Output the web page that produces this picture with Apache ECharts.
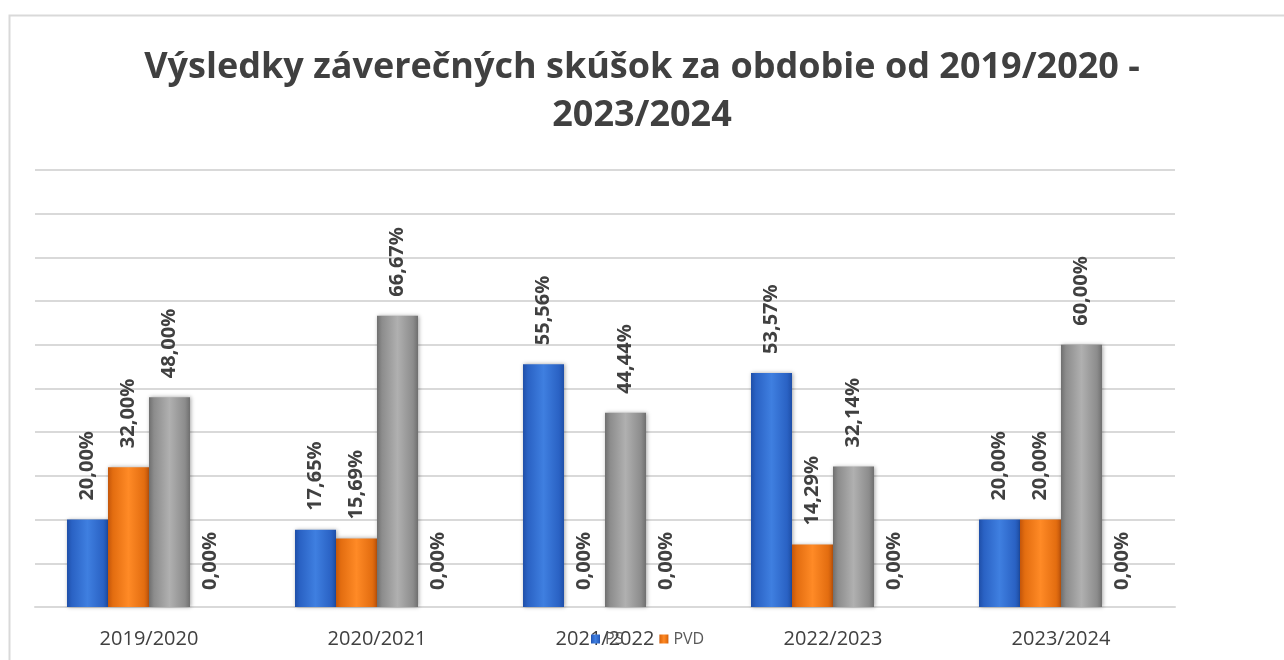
<!DOCTYPE html>
<html><head><meta charset="utf-8">
<script src="https://cdn.jsdelivr.net/npm/echarts@6/dist/echarts.min.js"></script>
<style>html,body{margin:0;padding:0;background:#fff}#c{width:1284px;height:660px}</style>
</head><body><div id="c"></div>
<script>
const titleText = 'Výsledky záverečných skúšok za obdobie od 2019/2020 -\n2023/2024';
const categories = ['2019/2020', '2020/2021', '2021/2022', '2022/2023', '2023/2024'];
const seriesNames = ['PS', 'PVD', 'P', 'N'];
const valuesPS  = [20.00, 17.65, 55.56, 53.57, 20.00];
const valuesPVD = [32.00, 15.69, 0.00, 14.29, 20.00];
const valuesP   = [48.00, 66.67, 44.44, 32.14, 60.00];
const valuesN   = [0.00, 0.00, 0.00, 0.00, 0.00];
const legendShown = ['PS', 'PVD'];

const allValues = [valuesPS, valuesPVD, valuesP, valuesN];
const baseColors = [
  ['#1f4fa8', '#3f7fe0', '#2a62c4'],
  ['#c4560a', '#ff8a26', '#e36d10'],
  ['#6f6f6f', '#b0b0b0', '#8c8c8c'],
  ['#6f6f6f', '#b0b0b0', '#8c8c8c']
];
function grad(c) {
  return new echarts.graphic.LinearGradient(0, 0, 1, 0, [
    {offset: 0, color: c[0]}, {offset: 0.12, color: c[2]},
    {offset: 0.5, color: c[1]}, {offset: 0.88, color: c[2]}, {offset: 1, color: c[0]}
  ]);
}
const chart = echarts.init(document.getElementById('c'));
chart.setOption({
  animation: false,
  backgroundColor: '#fff',
  graphic: [{
    type: 'rect', left: 7, top: 13, shape: {width: 1300, height: 700},
    style: {fill: 'none', stroke: '#d9d9d9', lineWidth: 2}, silent: true, z: -1
  }],
  title: {
    text: titleText, left: 'center', top: 39,
    textStyle: {fontFamily: 'Open Sans', fontWeight: 'bold', fontSize: 36, color: '#404040', lineHeight: 48}
  },
  legend: {
    data: legendShown, top: 626, left: 586, itemWidth: 9, itemHeight: 9, itemGap: 36,
    icon: 'rect',
    textStyle: {fontFamily: 'Open Sans', fontSize: 16, color: '#595959'}
  },
  grid: {left: 35, right: 109, top: 170, bottom: 53, containLabel: false},
  xAxis: {
    type: 'category', data: categories,
    axisLine: {lineStyle: {color: '#d9d9d9', width: 2}},
    axisTick: {show: false},
    axisLabel: {fontFamily: 'Open Sans', fontSize: 20, color: '#404040', margin: 22}
  },
  yAxis: {
    type: 'value', min: 0, max: 100, interval: 10,
    axisLabel: {show: false}, axisLine: {show: false}, axisTick: {show: false},
    splitLine: {lineStyle: {color: '#d9d9d9', width: 2}}
  },
  series: allValues.map((vals, i) => ({
    name: seriesNames[i], type: 'bar', barWidth: 41, barGap: '0%',
    itemStyle: {color: grad(baseColors[i]), shadowBlur: 4, shadowColor: 'rgba(0,0,0,0.35)', shadowOffsetX: 1, shadowOffsetY: 0},
    data: vals.map(v => ({value: v, label: {distance: v === 0 ? 17 : 19}})),
    label: {
      show: true, position: 'top', rotate: 90, align: 'left', verticalAlign: 'middle',
      fontFamily: 'Open Sans', fontWeight: 'bold', fontSize: 20, color: '#404040',
      formatter: p => p.value.toFixed(2).replace('.', ',') + '%'
    }
  }))
});
</script>
</body></html>
